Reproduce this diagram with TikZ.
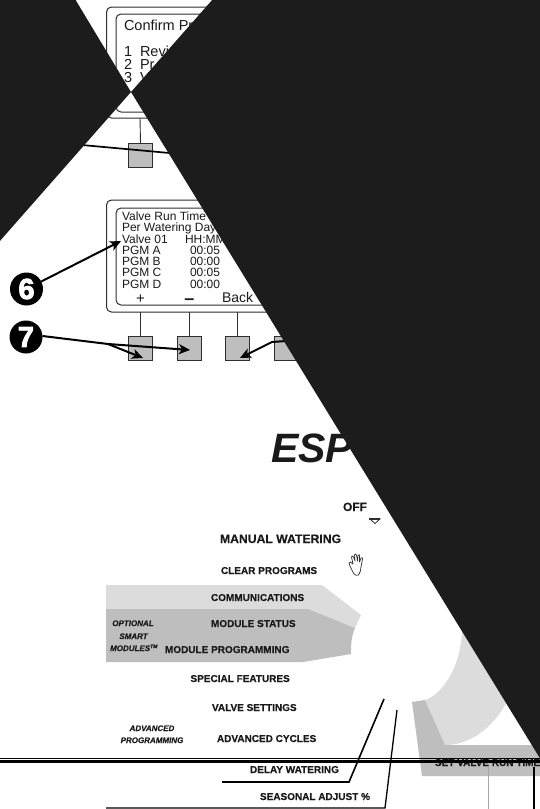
\documentclass[tikz,border=0pt]{standalone}
\usepackage{fontspec}
\setmainfont{Liberation Sans}
\newfontfamily\heavyfont[FakeBold=3]{Liberation Sans Bold}
\newfontfamily\menufont[FakeBold=0.4]{Liberation Sans Bold}
\newfontfamily\italfont[FakeBold=0.3]{Liberation Sans Bold Italic}
\usetikzlibrary{arrows.meta}
\definecolor{txt}{HTML}{1A1A1A}
\definecolor{frame}{HTML}{2E2E2E}
\definecolor{bgray}{HTML}{BEBEBE}
\definecolor{lgray}{HTML}{DCDCDC}
\definecolor{mask}{HTML}{1C1C1C}
\tikzset{
  every node/.style={inner sep=0pt,outer sep=0pt,text=txt},
  lcd/.style={draw=frame,line width=1pt,rounded corners=5pt},
  btn/.style={draw=frame,line width=.9pt,fill=bgray},
  stem/.style={draw=frame,line width=.9pt},
  lcdtxt/.style={anchor=base west,font=\fontsize{12}{12}\selectfont},
  lcdbig/.style={anchor=base west,font=\fontsize{14.5}{14.5}\selectfont},
  menu/.style={anchor=base west,font=\fontsize{10}{10}\selectfont\menufont},
  ital/.style={anchor=base,font=\fontsize{8}{8}\selectfont\italfont},
  callout/.style={circle,fill=black,minimum size=33pt,text=white,font=\fontsize{29}{29}\selectfont\heavyfont},
  lead/.style={draw=black,line width=2pt},
  tipped/.style={draw=black,line width=2pt,-{Stealth[length=11pt,width=10pt,inset=3pt]}},
  maskp/.style={fill=mask,draw=none}
}
\begin{document}
\begin{tikzpicture}[x=1pt,y=-1pt]
\useasboundingbox (0,0) rectangle (540,809);
\fill[white] (0,0) rectangle (540,809);
\clip (0,0) rectangle (540,809);
% gray bands
\fill[lgray] (106,585) -- (322,585) -- (361,615) -- (355,628) -- (308,609) -- (106,609) -- cycle;
\fill[bgray] (106,609) -- (308,609) -- (355,628) .. controls (351,637) and (351,646) .. (351,654) -- (303,662) -- (106,662) -- cycle;
\fill[lgray] (462,625) .. controls (463,665) and (442,695) .. (425,700) -- (445,745) .. controls (470,745) and (492,728) .. (505,705) -- (530,660) -- (480,620) -- cycle;
\fill[bgray] (412,702) -- (425,700) -- (445,745) -- (540,745) -- (540,776) -- (422,776) -- cycle;
% top display
\draw[lcd] (106.5,7) rectangle (300,118);
\draw[lcd] (116,14) rectangle (290,112);
\node[lcdbig] (t0) at (124,30) {Confirm Pr};
\node[lcdbig] (t1) at (124,56) {1};
\node[lcdbig] (t1b) at (140,56) {Revi};
\node[lcdbig] (t2) at (124,69) {2};
\node[lcdbig] (t2b) at (140,69) {Pr};
\node[lcdbig] (t3) at (124,82) {3};
\node[lcdbig] (t3b) at (140,82) {V};
\coordinate (s0) at (140,118);
\node[btn,minimum size=24pt] (b0) at (140.5,155) {};
\draw[stem] (s0) -- (b0.north);
\coordinate (la) at (60,143);
\coordinate (lb) at (175,153.5);
\draw[black,line width=1.7pt] (la) -- (lb);
% second display
\draw[lcd] (106.5,200) rectangle (330,312);
\draw[lcd] (116,208) rectangle (320,305);
\node[lcdtxt] (v1) at (122,220) {Valve Run Time};
\node[lcdtxt] (v2) at (122,231.5) {Per Watering Day};
\node[lcdtxt] (v3) at (122,243) {Valve 01};
\node[lcdtxt] (v3b) at (185,243) {HH:MM};
\node[lcdtxt] (a1) at (122,254.5) {PGM A};
\node[lcdtxt] (a2) at (190,254.5) {00:05};
\node[lcdtxt] (b1) at (122,265.5) {PGM B};
\node[lcdtxt] (b2) at (190,265.5) {00:00};
\node[lcdtxt] (c1) at (122,276.5) {PGM C};
\node[lcdtxt] (c2) at (190,276.5) {00:05};
\node[lcdtxt] (d1) at (122,288) {PGM D};
\node[lcdtxt] (d2) at (190,288) {00:00};
\node[anchor=base,font=\fontsize{15}{15}\selectfont] (plus) at (140.5,303) {+};
\node[anchor=base,font=\fontsize{18}{18}\selectfont\bfseries] (minus) at (189.5,304) {–};
\node[anchor=base west,font=\fontsize{14}{14}\selectfont] (back) at (222,302) {Back};
% buttons
\foreach \n/\x in {p/140.5,q/189,r/237.5,s/286}{
  \node[btn,minimum size=24pt] (\n) at (\x,348.5) {};
  \coordinate (\n s) at (\x,312);
  \draw[stem] (\n s) -- (\n.north);
}
% callouts
\node[callout] (six) at (26.5,289) {6};
\node[callout] (seven) at (26,337) {7};
\coordinate (six t) at (121,241);
\draw[tipped] (six) -- (six t);
\coordinate (m) at (108,344);
\coordinate (tp) at (143,358);
\coordinate (tq) at (190,350);
\coordinate (tr) at (240,358);
\coordinate (e1) at (272,342);
\coordinate (e2) at (300,340);
\draw[lead] (seven.east) ++(0,-1) -- (m);
\draw[tipped] (m) -- (tp);
\draw[tipped] (m) -- (tq);
\draw[tipped] (e2) -- (e1) -- (tr);
% title and dial texts
\node[anchor=base west,font=\fontsize{41}{41}\selectfont\bfseries\itshape] (esp) at (271,462) {ESP};
\node[anchor=base west,font=\fontsize{12}{12}\selectfont\menufont] (off) at (343,511) {OFF};
\draw[frame,line width=.8pt] (370,519) -- (380,519) -- (375,523.5) -- cycle;
\fill[frame] (369,518) rectangle (380,519.5);
\node[anchor=base west,font=\fontsize{12.2}{12.2}\selectfont\menufont] (mw) at (220,543) {MANUAL WATERING};
\node[menu] (cp) at (221,574) {CLEAR PROGRAMS};
% hand
\draw[frame,line width=.7pt,line join=round,fill=white] (354,574) .. controls (352,570) and (350,567) .. (349,563) .. controls (349,561) and (351,562) .. (353,564) -- (351.5,557) .. controls (351.5,555.5) and (353,555.5) .. (353.5,557) -- (355,561) -- (354.5,555) .. controls (354.5,553.5) and (356,553.5) .. (356.5,555) -- (357.5,561) -- (358,555.5) .. controls (358.5,554) and (360,554.5) .. (359.5,556) -- (359.5,562) -- (361,558) .. controls (362,557) and (363,558) .. (362.5,559) -- (361,567) .. controls (361,570) and (360,573) .. (358.5,575) .. controls (357,575.5) and (355,575.5) .. (354,574) -- cycle;
\node[menu] (com) at (211,601) {COMMUNICATIONS};
\node[menu] (ms) at (211,627) {MODULE STATUS};
\node[menu] (mp) at (165,653) {MODULE PROGRAMMING};
\node[ital] (o1) at (133,626) {OPTIONAL};
\node[ital] (o2) at (133.5,639) {SMART};
\node[ital] (o3) at (134,651) {MODULES\textsuperscript{\fontsize{5}{5}\selectfont TM}};
\node[menu] (sf) at (190.5,682) {SPECIAL FEATURES};
\node[menu] (vs) at (212,711) {VALVE SETTINGS};
\node[menu] (ac) at (217,742) {ADVANCED CYCLES};
\node[ital] (ap1) at (152,731) {ADVANCED};
\node[ital] (ap2) at (152,743) {PROGRAMMING};
\node[menu] (dw) at (250,773) {DELAY WATERING};
\node[menu] (sa) at (260,800) {SEASONAL ADJUST \%};
\node[menu] (sv) at (435,766) {SET VALVE RUN TIME};
% rules
\coordinate (r0) at (0,758.5);
\coordinate (r1) at (540,758.5);
\coordinate (r2) at (0,761.8);
\coordinate (r3) at (540,761.8);
\draw[black,line width=.9pt] (r0) -- (r1);
\draw[black,line width=3.2pt] (r2) -- (r3);
% leaders
\coordinate (l1a) at (384,699);
\coordinate (l1b) at (349,782);
\coordinate (l1c) at (222,782);
\coordinate (l2a) at (397,710);
\coordinate (l2b) at (385,808);
\coordinate (l2c) at (106,808);
\draw[black,line width=1.6pt,line join=miter] (l1a) -- (l1b) -- (l1c);
\draw[black,line width=1.3pt,line join=miter] (l2a) -- (l2b) -- (l2c);
\draw[gray!70,line width=.6pt] (488.5,767) -- (488.5,809);
\draw[black,line width=1.1pt] (534,767) -- (534,809);
% black masks
\fill[maskp] (-1,-1) -- (75,-1) -- (131,92) -- (-1,242) -- cycle;
\fill[maskp] (213,-1) -- (541,-1) -- (541,760) -- (131,92) -- cycle;
\end{tikzpicture}
\end{document}
